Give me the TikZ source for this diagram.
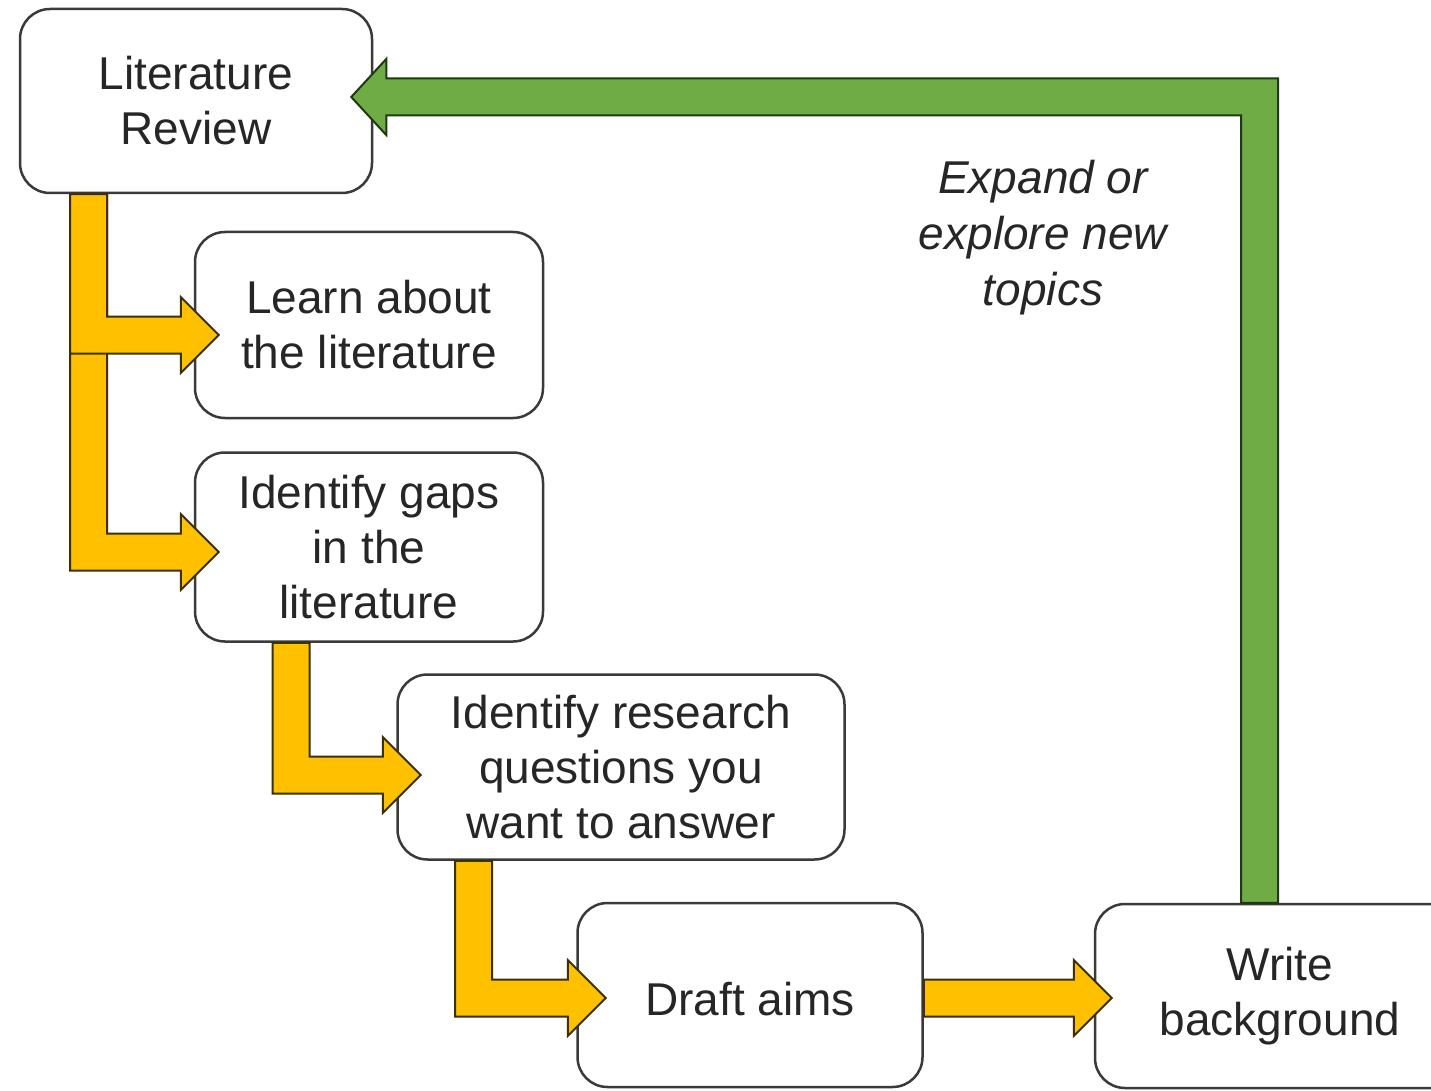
\documentclass[tikz,border=0pt]{standalone}
\usepackage{fontspec}
\setmainfont{Liberation Sans}
\usetikzlibrary{calc}
\definecolor{boxline}{HTML}{3A3A3A}
\definecolor{txt}{HTML}{262626}
\definecolor{ylw}{HTML}{FFC000}
\definecolor{ylwline}{HTML}{3A3000}
\definecolor{grn}{HTML}{6FAC46}
\definecolor{grnline}{HTML}{1F3A12}
\def\sw{18.5}
\def\hw{38}
\def\hl{38}
% L-shaped block arrow: down from #2 then right to tip #3
\newcommand\LArrowDR[3]{%
  \coordinate (aS) at #2; \coordinate (aT) at #3;
  \draw[#1] ($(aS)+(-\sw,0)$) -- ($(aS|-aT)+(-\sw,\sw)$) -- ($(aT)+(-\hl,\sw)$)
    -- ($(aT)+(-\hl,\hw)$) -- (aT) -- ($(aT)+(-\hl,-\hw)$) -- ($(aT)+(-\hl,-\sw)$)
    -- ($(aS|-aT)+(\sw,-\sw)$) -- ($(aS)+(\sw,0)$) -- cycle;}
\begin{document}
\begin{tikzpicture}[x=1pt,y=-1pt,
  box/.style={draw=boxline, line width=2.5pt, rounded corners=30pt, fill=white,
    align=center, text=txt, font=\fontsize{46}{55}\selectfont, inner sep=0pt,
    execute at begin node={\rule{0pt}{41.5pt}}},
  ylwarrow/.style={fill=ylw, draw=ylwline, line width=2pt, line join=miter},
  grnarrow/.style={fill=grn, draw=grnline, line width=2pt, line join=miter},
  note/.style={align=center, text=txt, font=\fontsize{46}{56}\selectfont\itshape}]
\clip (0,0) rectangle (1431,1091);
\fill[white] (0,0) rectangle (1431,1091);

\node[box, minimum width=352pt, minimum height=184pt] (lit) at (196,101) {Literature\\Review};
\node[box, minimum width=348pt, minimum height=186pt] (learn) at (369,325) {Learn about\\the literature};
\node[box, minimum width=348pt, minimum height=189pt] (gaps) at (369,547) {Identify gaps\\in the\\literature};
\node[box, minimum width=447pt, minimum height=185pt] (research) at (621,767) {Identify research\\questions you\\want to answer};
\node[box, minimum width=345pt, minimum height=184pt] (draft) at (750,995) {Draft aims};
\node[box, minimum width=370pt, minimum height=184pt] (write) at (1280,996) {Write\\background};

\node[note] (expl) at (1043,238) {Expand or\\explore new\\topics};

% yellow block arrows
\LArrowDR{ylwarrow}{($(lit.south)+(-107.5,0)$)}{($(gaps.west)+(25,5)$)}
\LArrowDR{ylwarrow}{($(lit.south)+(-107.5,0)$)}{($(learn.west)+(25,10)$)}
\LArrowDR{ylwarrow}{($(gaps.south)+(-78,0)$)}{($(research.west)+(24.5,8)$)}
\LArrowDR{ylwarrow}{($(research.south)+(-147.5,0)$)}{($(draft.west)+(29.5,3)$)}

% straight arrow draft -> write
\coordinate (bS) at ($(draft.east)+(0,3)$);
\coordinate (bT) at ($(write.west)+(18,2)$);
\draw[ylwarrow] ($(bS|-bT)+(0,-\sw)$) -- ($(bT)+(-\hl,-\sw)$) -- ($(bT)+(-\hl,-\hw)$)
  -- (bT) -- ($(bT)+(-\hl,\hw)$) -- ($(bT)+(-\hl,\sw)$) -- ($(bS|-bT)+(0,\sw)$) -- cycle;

% green feedback arrow write -> lit
\coordinate (gS) at ($(write.north)+(-20.5,0)$);
\coordinate (gT) at ($(lit.east)+(-22,-4)$);
\draw[grnarrow] ($(gS)+(\sw,0)$) -- ($(gS|-gT)+(\sw,-\sw)$) -- ($(gT)+(35,-\sw)$)
  -- ($(gT)+(35,-\hw)$) -- (gT) -- ($(gT)+(35,\hw)$) -- ($(gT)+(35,\sw)$)
  -- ($(gS|-gT)+(-\sw,\sw)$) -- ($(gS)+(-\sw,0)$) -- cycle;
\end{tikzpicture}
\end{document}
